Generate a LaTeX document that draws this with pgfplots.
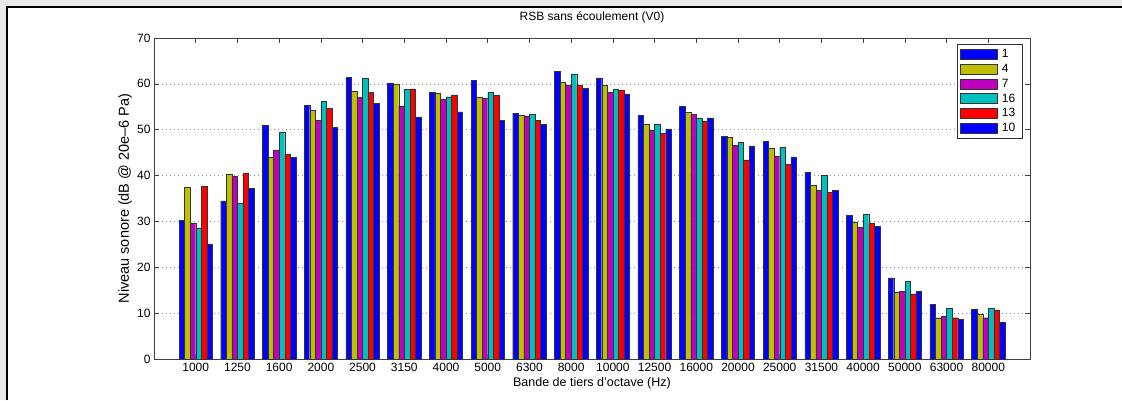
\documentclass[border=0pt]{standalone}
\usepackage{fontspec}
\setmainfont{Liberation Sans}
\usepackage{pgfplots}
\usepackage{pgfplotstable}
\pgfplotsset{compat=1.18}
\definecolor{mblue}{rgb}{0,0,1}
\definecolor{myellow}{rgb}{0.75,0.75,0}
\definecolor{mmag}{rgb}{0.75,0,0.75}
\definecolor{mcyan}{rgb}{0,0.75,0.75}
\definecolor{mred}{rgb}{1,0,0}
\definecolor{framegray}{gray}{0.91}
\pgfplotstableread{
x a b c d e f
1 30.3 37.4 29.7 28.5 37.6 25.1
2 34.5 40.3 39.8 34.0 40.6 37.2
3 51.0 44.1 45.6 49.4 44.6 44.0
4 55.3 54.2 52.0 56.2 54.7 50.5
5 61.4 58.3 57.1 61.2 58.2 55.7
6 60.2 59.9 55.2 58.8 58.9 52.8
7 58.2 58.0 56.7 57.2 57.6 53.9
8 60.8 57.1 56.9 58.1 57.6 52.0
9 53.6 53.1 52.9 53.3 52.1 51.1
10 62.7 60.3 59.8 62.2 59.8 59.0
11 61.3 59.6 58.2 58.8 58.7 57.8
12 53.1 51.3 49.9 51.2 49.2 50.2
13 55.1 53.8 53.3 52.6 51.8 52.6
14 48.6 48.4 46.6 47.3 43.4 46.5
15 47.5 45.9 44.3 46.1 42.5 44.1
16 40.7 37.9 36.8 40.1 36.3 36.8
17 31.3 29.8 28.7 31.5 29.7 28.9
18 17.7 14.5 14.8 17.0 14.2 14.8
19 11.9 9.0 9.3 11.0 9.0 8.6
20 10.9 9.7 9.0 11.0 10.7 8.1
}\data
\begin{document}
\begin{tikzpicture}
\useasboundingbox (0pt,0pt) rectangle (1122pt,400pt);
\fill[framegray] (0pt,0pt) rectangle (1122pt,400pt);
\fill[white] (7pt,0pt) rectangle (1122pt,393pt);
\draw[black, line width=2pt] (7pt,0pt) -- (7pt,393pt) -- (1122pt,393pt);
\begin{axis}[
  at={(154pt,41pt)}, anchor=south west,
  scale only axis, width=876pt, height=321pt,
  font=\fontsize{12}{14}\selectfont,
  /pgf/number format/assume math mode=true,
  ybar,
  xmin=0, xmax=21, ymin=0, ymax=70,
  xtick={1,...,20},
  xticklabels={1000,1250,1600,2000,2500,3150,4000,5000,6300,8000,10000,12500,16000,20000,25000,31500,40000,50000,63000,80000},
  ytick={0,10,...,70},
  tick align=inside,
  major tick length=5pt,
  tick style={black!75, line width=0.5pt},
  axis line style={black!75, line width=0.6pt},
  ymajorgrids=true,
  major grid style={black!45, line width=0.5pt, dash pattern=on 1pt off 3pt},
  title={RSB sans écoulement (V0)},
  title style={at={(axis description cs:0.5,1.0374)}, anchor=base, font=\fontsize{12}{14}\selectfont},
  xlabel={Bande de tiers d'octave (Hz)},
  xlabel style={at={(axis description cs:0.5,-0.0748)}, anchor=center, font=\fontsize{12.5}{14}\selectfont},
  ylabel={Niveau sonore (dB @ 20e\textendash 6 Pa)},
  ylabel style={at={(axis description cs:-0.0331,0.5)}, anchor=center, font=\fontsize{14.5}{17}\selectfont},
  xticklabel style={yshift=-1pt},
  bar width=0.13333,
  legend image code/.code={\draw[#1, draw=black!80, line width=0.5pt] (0pt,-5pt) rectangle (37pt,5pt);},
  legend style={at={(0.992,0.981)}, anchor=north east, draw=black!80, fill=white,
    line width=0.6pt, font=\fontsize{12}{13}\selectfont, row sep=2pt,
    inner sep=3.5pt, nodes={inner xsep=4pt, inner ysep=1.5pt}},
  legend cell align=left,
]
\addplot[ybar, bar shift=-0.33333, fill=mblue, draw=black!80, line width=0.4pt] table[x=x,y=a]{\data};
\addplot[ybar, bar shift=-0.2, fill=myellow, draw=black!80, line width=0.4pt] table[x=x,y=b]{\data};
\addplot[ybar, bar shift=-0.066667, fill=mmag, draw=black!80, line width=0.4pt] table[x=x,y=c]{\data};
\addplot[ybar, bar shift=0.066667, fill=mcyan, draw=black!80, line width=0.4pt] table[x=x,y=d]{\data};
\addplot[ybar, bar shift=0.2, fill=mred, draw=black!80, line width=0.4pt] table[x=x,y=e]{\data};
\addplot[ybar, bar shift=0.33333, fill=mblue, draw=black!80, line width=0.4pt] table[x=x,y=f]{\data};
\legend{1,4,7,16,13,10}
\end{axis}
\end{tikzpicture}
\end{document}
